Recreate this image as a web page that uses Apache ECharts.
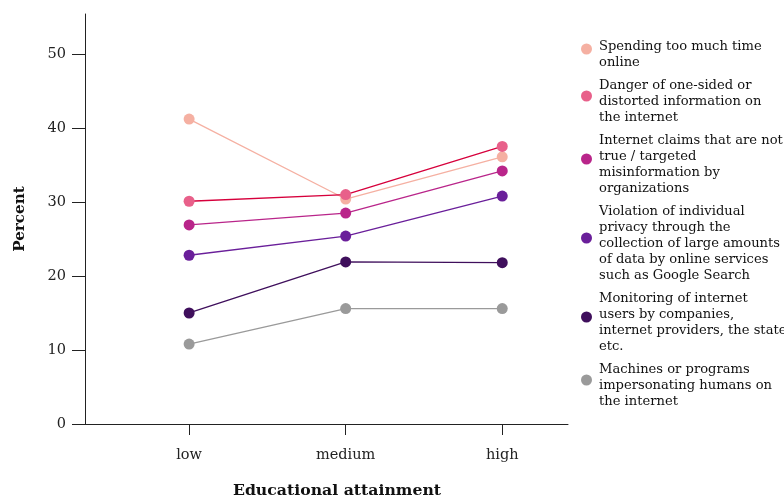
<!DOCTYPE html>
<html>
<head>
<meta charset="utf-8">
<script src="https://cdn.jsdelivr.net/npm/echarts@6/dist/echarts.min.js"></script>
<style>html,body{margin:0;padding:0;background:#fff}#c{width:784px;height:500px}</style>
</head>
<body>
<div id="c"></div>
<script>
var categories = ['low', 'medium', 'high'];
var seriesNames = [
  'Spending too much time online',
  'Danger of one-sided or distorted information on the internet',
  'Internet claims that are not true / targeted misinformation by organizations',
  'Violation of individual privacy through the collection of large amounts of data by online services such as Google Search',
  'Monitoring of internet users by companies, internet providers, the state etc.',
  'Machines or programs impersonating humans on the internet'
];
var legendLabels = [
  'Spending too much time\nonline',
  'Danger of one-sided or\ndistorted information on\nthe internet',
  'Internet claims that are not\ntrue / targeted\nmisinformation by\norganizations',
  'Violation of individual\nprivacy through the\ncollection of large amounts\nof data by online services\nsuch as Google Search',
  'Monitoring of internet\nusers by companies,\ninternet providers, the state\netc.',
  'Machines or programs\nimpersonating humans on\nthe internet'
];
var spending = [41.2, 30.4, 36.1];
var danger = [30.1, 31.0, 37.5];
var claims = [26.9, 28.5, 34.2];
var violation = [22.8, 25.4, 30.8];
var monitoring = [15.0, 21.9, 21.8];
var machines = [10.8, 15.6, 15.6];
var yTicks = [0, 10, 20, 30, 40, 50];

var values = [spending, danger, claims, violation, monitoring, machines];
var markerColors = ['#f5b0a2', '#e8608a', '#b9258a', '#6a1f9a', '#3f0f5c', '#9a9a9a'];
var lineColors = ['#f5b0a2', '#d6003c', '#b9258a', '#6a1f9a', '#3f0f5c', '#9a9a9a'];
var FONT = 'DejaVu Serif';
var ICON = 'path://M0,5.5 A5.5,5.5 0 1 0 11,5.5 A5.5,5.5 0 1 0 0,5.5 Z M0,23';

var chart = echarts.init(document.getElementById('c'), null, {renderer: 'canvas'});
var series = values.map(function (vals, i) {
  return {
    name: seriesNames[i],
    type: 'line',
    data: vals.map(function (v, j) { return [j + 1, v]; }),
    symbol: 'circle',
    symbolSize: 11,
    itemStyle: {color: markerColors[i]},
    lineStyle: {color: lineColors[i], width: 1.3},
    emphasis: {disabled: true},
    z: 2 + i
  };
});

chart.setOption({
  animation: false,
  backgroundColor: '#ffffff',
  textStyle: {fontFamily: FONT},
  grid: {left: 85, right: 216, top: 14, bottom: 76, containLabel: false, outerBoundsMode: 'none'},
  xAxis: {
    type: 'value',
    min: 0.335,
    max: 3.42,
    splitLine: {show: false},
    axisLine: {show: true, lineStyle: {color: '#222', width: 1}},
    axisTick: {show: true, length: 11, lineStyle: {color: '#222'}, customValues: [1, 2, 3]},
    axisLabel: {
      customValues: [1, 2, 3],
      margin: 24,
      color: '#222',
      fontFamily: FONT,
      fontSize: 14.5,
      formatter: function (v) { return categories[Math.round(v) - 1] || ''; }
    },
    name: 'Educational attainment',
    nameLocation: 'middle',
    nameGap: 59,
    nameTextStyle: {fontFamily: FONT, fontWeight: 'bold', fontSize: 15.7, color: '#111', padding: [0, 0, 0, 21]}
  },
  yAxis: {
    type: 'value',
    min: 0,
    max: 55.4,
    interval: 10,
    splitLine: {show: false},
    axisLine: {show: true, lineStyle: {color: '#222', width: 1}},
    axisTick: {show: true, length: 13, lineStyle: {color: '#222'}, customValues: yTicks},
    axisLabel: {customValues: yTicks, margin: 19, color: '#222', fontFamily: FONT, fontSize: 14.5},
    name: 'Percent',
    nameLocation: 'middle',
    nameGap: 57,
    nameTextStyle: {fontFamily: FONT, fontWeight: 'bold', fontSize: 15.2, color: '#111'}
  },
  legend: {
    orient: 'vertical',
    left: 581,
    top: 33,
    padding: 0,
    itemGap: -5,
    itemWidth: 11,
    itemHeight: 23,
    icon: ICON,
    selectedMode: false,
    data: seriesNames,
    formatter: function (name) { return legendLabels[seriesNames.indexOf(name)]; },
    textStyle: {fontFamily: FONT, fontSize: 13.1, color: '#111', lineHeight: 16, padding: [12, 0, 0, 2]}
  },
  series: series
});
</script>
</body>
</html>
